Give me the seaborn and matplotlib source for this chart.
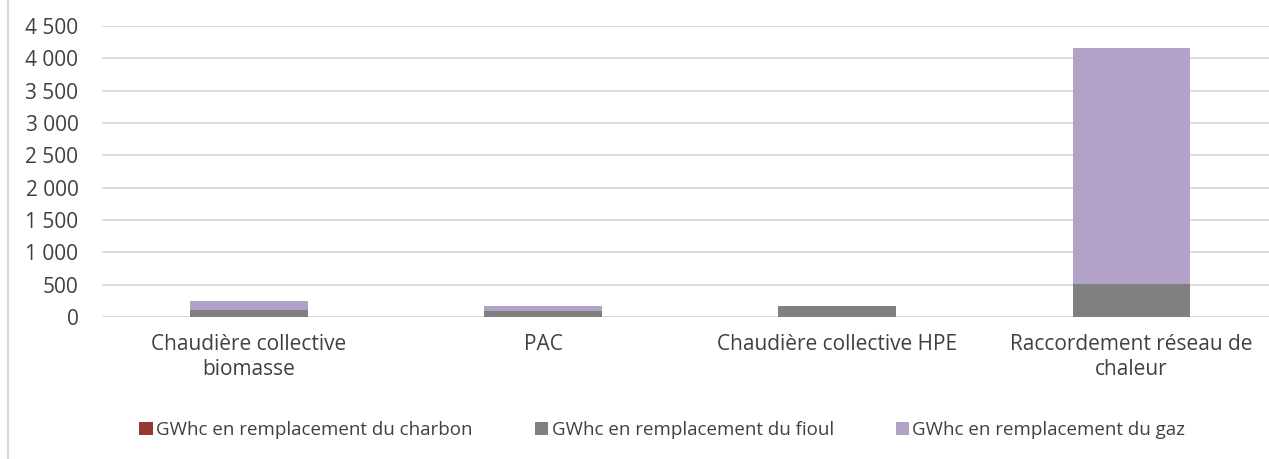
import pandas as pd
import numpy as np
import seaborn as sns
import matplotlib.pyplot as plt
from matplotlib.patches import Patch
from matplotlib.lines import Line2D
from matplotlib.ticker import FuncFormatter

categories = ["Chaudière collective\nbiomasse", "PAC", "Chaudière collective HPE",
              "Raccordement réseau de\nchaleur"]
charbon = [0, 0, 0, 0]
fioul = [110, 95, 165, 510]
gaz = [130, 75, 0, 3650]

series_names = ["GWhc en remplacement du charbon", "GWhc en remplacement du fioul",
                "GWhc en remplacement du gaz"]
colors = ["#953735", "#808080", "#B3A2C7"]

sns.set_style("white")
plt.rcParams['font.family'] = ['Open Sans', 'DejaVu Sans']

df = pd.DataFrame({"cat": categories, "charbon": charbon, "fioul": fioul, "gaz": gaz})
df["lvl1"] = df["charbon"]
df["lvl2"] = df["charbon"] + df["fioul"]
df["lvl3"] = df["lvl2"] + df["gaz"]

fig = plt.figure(figsize=(12.69, 4.59), dpi=100)
ax = fig.add_axes([102 / 1269, (459 - 317) / 459, (1269 - 102) / 1269, (317 - 26) / 459])

# stacked bars drawn back to front
for col, c in zip(["lvl3", "lvl2", "lvl1"], colors[::-1]):
    sns.barplot(data=df, x="cat", y=col, color=c, width=0.4, ax=ax,
                saturation=1, linewidth=0, zorder=3)

ax.set_xlim(-0.5, 3.468)
ax.set_ylim(0, 4500)
ax.set_yticks(np.arange(0, 4501, 500))
ax.yaxis.set_major_formatter(FuncFormatter(lambda v, p: f"{int(v):,}".replace(",", " ")))
ax.grid(axis="y", color="#D9D9D9", linewidth=1.3, zorder=0)
ax.set_axisbelow(True)
for s in ax.spines.values():
    s.set_visible(False)
ax.set_xlabel("")
ax.set_ylabel("")
ax.tick_params(axis="both", length=0, labelsize=15, colors="#404040")
ax.tick_params(axis="x", pad=12)
ax.tick_params(axis="y", pad=17)
for lab in ax.get_xticklabels():
    lab.set_linespacing(1.25)

handles = [Patch(facecolor=c, edgecolor="none") for c in colors]
fig.legend(handles, series_names, loc="center", bbox_to_anchor=(0.522, 0.063), ncol=3,
           frameon=False, fontsize=13.5, handlelength=0.7, handleheight=0.7,
           handletextpad=0.2, columnspacing=3.3, labelcolor="#404040")

fig.add_artist(Line2D([8 / 1269, 8 / 1269], [0, 1], color="#D9D9D9", linewidth=1.5))

fig.savefig("out.png", dpi=100)
